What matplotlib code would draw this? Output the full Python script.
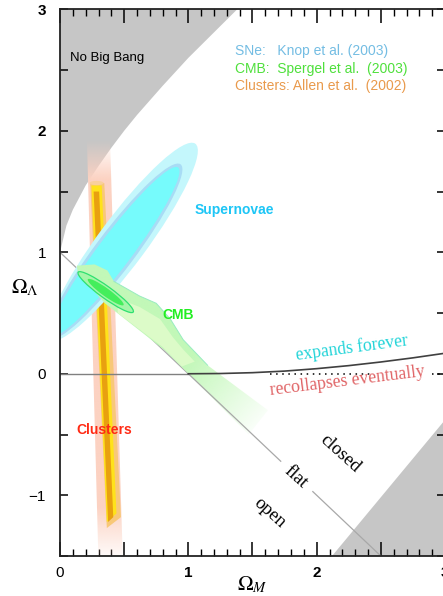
import numpy as np
import matplotlib
matplotlib.use('Agg')
import matplotlib.pyplot as plt
from matplotlib.patches import Ellipse, Polygon
from matplotlib.ticker import MultipleLocator
from matplotlib.colors import to_rgb

plt.rcParams['font.family'] = ['Liberation Sans', 'DejaVu Sans']
plt.rcParams['mathtext.fontset'] = 'stix'

# --- data ---------------------------------------------------------------
# edge of the "No Big Bang" region
nbb_om = [0, 0.05, 0.1, 0.2, 0.3, 0.4, 0.5, 0.6, 0.8, 1.0, 1.2, 1.4, 0]
nbb_ol = [1.0, 1.22, 1.35, 1.55, 1.71, 1.86, 2.0, 2.13, 2.37, 2.60, 2.81, 3.02, 3.1]

# grey wedge bottom right
wedge_om = [2.12, 3.0, 3.0]
wedge_ol = [-1.5, -0.38, -1.5]

# expands forever / recollapses eventually boundary
exp_om = [1.0, 1.25, 1.5, 1.75, 2.0, 2.25, 2.5, 2.75, 3.0]
exp_ol = [0, 0.002, 0.009, 0.022, 0.042, 0.067, 0.097, 0.131, 0.169]
zero_om = [0, 1.0]
zero_ol = [0, 0]
dot_om = [[1.64, 2.42], [2.9, 3.0]]

# flat universe line (broken for the "flat" label)
flat_om = [0, 1.0, 1.72, 1.97, 2.5]
flat_ol = [1.0, 0.0, -0.72, -0.97, -1.5]

# supernovae contours: centre, width, height, angle (outer -> inner)
sne_cx = [0.487, 0.429, 0.429]
sne_cy = [1.086, 1.008, 1.008]
sne_w = [1.974, 1.759, 1.694]
sne_h = [0.381, 0.310, 0.262]
sne_ang = [55.0, 54.6, 54.6]
sne_col = ['#c4f7fc', '#a8dcf5', '#76fbfc']

# CMB band
cmb_om = [0.13, 0.27, 0.37, 0.42, 0.62, 0.75, 0.86, 0.96, 1.15, 1.62,
          1.47, 1.01, 0.82, 0.35, 0.14]
cmb_ol = [0.89, 0.90, 0.85, 0.76, 0.64, 0.58, 0.45, 0.28, 0.07, -0.30,
          -0.50, -0.01, 0.19, 0.58, 0.83]
cmb_in_om = [0.45, 0.62, 0.78, 0.88, 0.96, 1.05, 0.95, 0.80, 0.60, 0.45]
cmb_in_ol = [0.62, 0.55, 0.45, 0.30, 0.20, 0.10, 0.06, 0.22, 0.38, 0.50]
cmb_edge_om = [0.42, 0.62, 0.75, 0.86, 0.96, 1.15]
cmb_edge_ol = [0.76, 0.64, 0.58, 0.45, 0.28, 0.07]
cmb_cx, cmb_cy, cmb_ang = 0.356, 0.672, -37.5
cmb_w = [0.54, 0.35]
cmb_h = [0.096, 0.064]

# clusters band (outer -> inner)
clu_pink_om = [0.21, 0.39, 0.49, 0.30]
clu_pink_ol = [1.92, 1.92, -1.55, -1.55]
clu_lo_om = [0.235, 0.345, 0.475, 0.365]
clu_lo_ol = [1.57, 1.57, -1.18, -1.27]
clu_y_om = [0.245, 0.325, 0.44, 0.365]
clu_y_ol = [1.55, 1.55, -1.15, -1.22]
clu_core_om = [0.262, 0.305, 0.415, 0.375]
clu_core_ol = [1.50, 1.50, -1.18, -1.22]

x_ticks = [0, 0.5, 1, 1.5, 2, 2.5, 3]
x_labels = ['0', '', '1', '', '2', '', '3']
y_ticks = [-1.5, -1, -0.5, 0, 0.5, 1, 1.5, 2, 2.5, 3]
y_labels = ['', '\u22121', '', '0', '', '1', '', '2', '', '3']


def faded_fill(ax, xs, ys, color, ramps, zorder):
    """Fill a polygon with a colour whose alpha goes to 0 along the given ramps."""
    poly = Polygon(np.column_stack([xs, ys]), closed=True, fc='none', ec='none')
    ax.add_patch(poly)
    x0, x1, y0, y1 = min(xs), max(xs), min(ys), max(ys)
    gx, gy = np.meshgrid(np.linspace(x0, x1, 300), np.linspace(y0, y1, 300))
    alpha = np.ones_like(gx)
    for p0, p1 in ramps:
        d = np.subtract(p1, p0)
        t = ((gx - p0[0]) * d[0] + (gy - p0[1]) * d[1]) / (d @ d)
        alpha *= 1 - np.clip(t, 0, 1)
    rgba = np.zeros(gx.shape + (4,))
    rgba[..., :3] = to_rgb(color)
    rgba[..., 3] = alpha
    im = ax.imshow(rgba, extent=(x0, x1, y0, y1), origin='lower', aspect='auto',
                   zorder=zorder, interpolation='bilinear')
    im.set_clip_path(poly)


fig = plt.figure(figsize=(4.43, 5.96), dpi=100)
ax = fig.add_axes([60 / 443, 40 / 596, 385 / 443, 546.7 / 596])

# grey regions
ax.fill(nbb_om, nbb_ol, color='#c6c6c6', lw=0, zorder=1)
ax.fill(wedge_om, wedge_ol, color='#c6c6c6', lw=0, zorder=1)

# clusters
faded_fill(ax, clu_pink_om, clu_pink_ol, '#fcd2c2',
           [((0.3, 1.6), (0.3, 1.92)), ((0.4, -1.1), (0.4, -1.55))], 2)
ax.fill(clu_lo_om, clu_lo_ol, color='#f8c878', lw=0, zorder=2.1)
ax.fill(clu_y_om, clu_y_ol, color='#ffe21a', lw=0, zorder=2.2)
ax.fill(clu_core_om, clu_core_ol, color='#e8a010', lw=0, zorder=2.3)
ax.add_patch(Ellipse((0.285, 1.57), 0.11, 0.035, color='#f9cf9c', lw=0, zorder=2.4))

# flat line, part hidden below the CMB band
ax.plot(flat_om[:2], flat_ol[:2], color='#a8a8a8', lw=0.9, zorder=2.5)

# supernovae
for cx, cy, w, h, a, c in zip(sne_cx, sne_cy, sne_w, sne_h, sne_ang, sne_col):
    ax.add_patch(Ellipse((cx, cy), w, h, angle=a, color=c, lw=0, zorder=3))

# CMB
faded_fill(ax, cmb_om, cmb_ol, '#c2f8b8', [((1.0, 0.12), (1.62, -0.42))], 4)
ax.fill(cmb_in_om, cmb_in_ol, color='#dcfbc8', lw=0, zorder=4.1)
ax.plot(cmb_edge_om, cmb_edge_ol, color='#98ecc0', lw=0.7, zorder=4.2)
ax.add_patch(Ellipse((cmb_cx, cmb_cy), cmb_w[0], cmb_h[0], angle=cmb_ang,
                     fc='#a4f6a8', ec='#2ee070', lw=0.9, zorder=4.3))
ax.add_patch(Ellipse((cmb_cx, cmb_cy), cmb_w[1], cmb_h[1], angle=cmb_ang,
                     fc='#44ee5c', ec='none', zorder=4.4))

# boundary lines
ax.plot(flat_om[1:3], flat_ol[1:3], color='#a8a8a8', lw=0.9, zorder=5)
ax.plot(flat_om[3:], flat_ol[3:], color='#a8a8a8', lw=0.9, zorder=5)
ax.plot(zero_om, zero_ol, color='#808080', lw=1.0, zorder=5)
ax.plot(exp_om, exp_ol, color='#404040', lw=1.2, zorder=5)
for seg in dot_om:
    ax.plot(seg, [0, 0], color='black', lw=1.1, ls=(0, (1, 3)), zorder=5)

# labels
ax.text(0.078, 2.60, 'No Big Bang', fontsize=9.5, va='center', zorder=6)
ax.text(1.364, 2.66, 'SNe:   Knop et al. (2003)', color='#74bde3', fontsize=10, va='center')
ax.text(1.364, 2.51, 'CMB:  Spergel et al.  (2003)', color='#4fe03c', fontsize=10, va='center')
ax.text(1.364, 2.37, 'Clusters: Allen et al.  (2002)', color='#e99a4c', fontsize=10, va='center')
ax.text(1.356, 1.352, 'Supernovae', color='#1ec6f6', fontsize=10, weight='bold',
        ha='center', va='center', zorder=6)
ax.text(0.92, 0.48, 'CMB', color='#22ee22', fontsize=10, weight='bold',
        ha='center', va='center', zorder=6)
ax.text(0.343, -0.463, 'Clusters', color='#ff2a14', fontsize=10, weight='bold',
        ha='center', va='center', zorder=6)

serif = ['Liberation Serif', 'DejaVu Serif']
ax.text(2.276, 0.215, 'expands forever', color='#22d4d8', fontsize=12.7, family=serif,
        rotation=7.5, ha='center', va='center', rotation_mode='anchor', zorder=6)
ax.text(2.237, -0.06, 'recollapses eventually', color='#e06466', fontsize=12.7, family=serif,
        rotation=7, ha='center', va='center', rotation_mode='anchor', zorder=6)
for x, y, s in [(2.18, -0.66, 'closed'), (1.84, -0.85, 'flat'), (1.63, -1.145, 'open')]:
    ax.text(x, y, s, fontsize=13.5, family=serif, rotation=-42, ha='center', va='center',
            rotation_mode='anchor', zorder=6)

ax.set_xlabel(r'$\Omega_M$', fontsize=15, labelpad=-4)
ax.set_ylabel(r'$\Omega_\Lambda$', fontsize=15, rotation=0, va='center')
ax.yaxis.set_label_coords(-0.09, 0.49)

ax.set_xlim(0, 3)
ax.set_ylim(-1.5, 3)
ax.set_xticks(x_ticks)
ax.set_xticklabels(x_labels)
ax.set_yticks(y_ticks)
ax.set_yticklabels(y_labels)
ax.xaxis.set_minor_locator(MultipleLocator(0.1))
ax.tick_params(axis='x', which='major', direction='in', length=10, width=1.1,
               top=True, labelsize=11, pad=7)
ax.tick_params(axis='x', which='minor', direction='in', length=5, width=1.0, top=True)
ax.tick_params(axis='y', which='major', direction='in', length=6, width=1.1,
               right=True, labelsize=11, pad=10)
for lab in ax.get_xticklabels():
    if lab.get_text() in ('1', '2', '3'):
        lab.set_fontweight('bold')
for lab in ax.get_yticklabels():
    if lab.get_text() in ('2', '3'):
        lab.set_fontweight('bold')
for sp in ax.spines.values():
    sp.set_linewidth(1.3)
    sp.set_color('#222222')
    sp.set_zorder(7)

fig.savefig('out.png', dpi=100)
